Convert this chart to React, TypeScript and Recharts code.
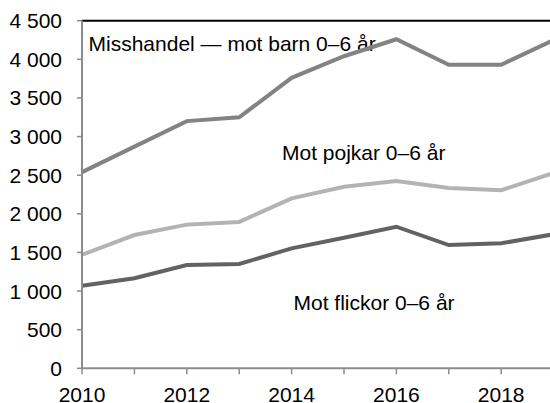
import React from 'react';
import { LineChart, Line, XAxis, YAxis, ReferenceLine, Customized } from 'recharts';

const years = [2010, 2011, 2012, 2013, 2014, 2015, 2016, 2017, 2018, 2019];
const totalBarn = [2540, 2870, 3200, 3250, 3760, 4040, 4260, 3930, 3930, 4250];
const pojkar = [1470, 1725, 1860, 1895, 2200, 2350, 2425, 2335, 2305, 2530];
const flickor = [1070, 1165, 1337, 1350, 1553, 1690, 1833, 1596, 1618, 1735];
const yTicks = [0, 500, 1000, 1500, 2000, 2500, 3000, 3500, 4000, 4500];
const xTicks = [2010, 2011, 2012, 2013, 2014, 2015, 2016, 2017, 2018, 2019];
const labelTotal = 'Misshandel — mot barn 0–6 år';
const labelPojkar = 'Mot pojkar 0–6 år';
const labelFlickor = 'Mot flickor 0–6 år';

const data = years.map((y, i) => ({
  year: y,
  total: totalBarn[i],
  pojkar: pojkar[i],
  flickor: flickor[i],
}));

const FONT = '"Liberation Sans", Arial, sans-serif';
const AXIS = '#8c8c8c';

const fmt = (v: number) => {
  const s = String(v);
  return s.length > 3 ? s.slice(0, s.length - 3) + ' ' + s.slice(-3) : s;
};

const Annotations = () => (
  <g fontFamily={FONT} fontSize={21} fill="#000">
    <text x={88.5} y={51.3}>{labelTotal}</text>
    <text x={282} y={160}>{labelPojkar}</text>
    <text x={293.5} y={310}>{labelFlickor}</text>
  </g>
);

export default function App() {
  return (
    <div style={{ position: 'absolute', left: 0, top: 0, width: 550, height: 403, overflow: 'hidden', background: '#fff' }}>
      <LineChart width={560} height={403} data={data} margin={{ top: 20.7, right: 6.4, left: 0, bottom: 0 }}>
        <XAxis
          dataKey="year"
          type="number"
          domain={[2010, 2019]}
          ticks={xTicks}
          tickFormatter={(v: number) => (v % 2 === 0 ? String(v) : '')}
          height={34.7}
          axisLine={{ stroke: AXIS, strokeWidth: 2 }}
          tickLine={{ stroke: AXIS, strokeWidth: 1.5 }}
          tickSize={6}
          tickMargin={13}
          tick={{ fill: '#000', fontSize: 21, fontFamily: FONT }}
          interval={0}
        />
        <YAxis
          type="number"
          domain={[0, 4500]}
          ticks={yTicks}
          tickFormatter={fmt}
          width={82}
          axisLine={{ stroke: AXIS, strokeWidth: 2 }}
          tickLine={{ stroke: AXIS, strokeWidth: 1.5 }}
          tickSize={5}
          tickMargin={15}
          tick={{ fill: '#000', fontSize: 21, fontFamily: FONT }}
          interval={0}
        />
        <ReferenceLine y={4500} stroke="#000" strokeWidth={2} />
        <Line dataKey="total" stroke="#838383" strokeWidth={4} dot={false} isAnimationActive={false} />
        <Line dataKey="pojkar" stroke="#b3b3b3" strokeWidth={4} dot={false} isAnimationActive={false} />
        <Line dataKey="flickor" stroke="#626262" strokeWidth={4} dot={false} isAnimationActive={false} />
        <Customized component={Annotations} />
      </LineChart>
    </div>
  );
}
